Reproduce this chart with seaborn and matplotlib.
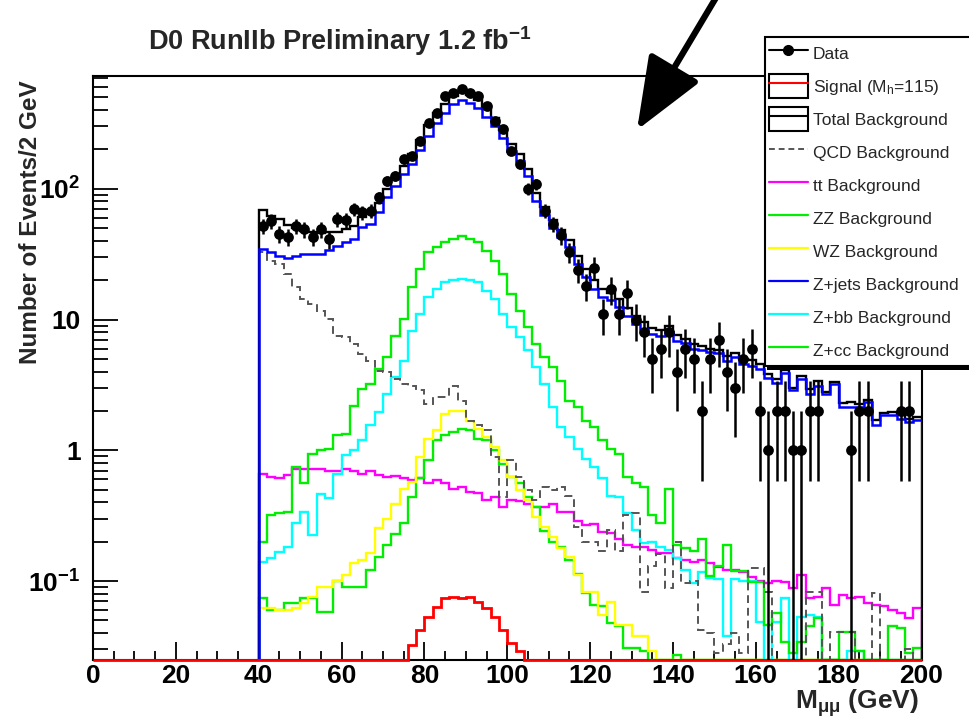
import numpy as np
import matplotlib
matplotlib.use("Agg")
import matplotlib.pyplot as plt
import seaborn as sns
from matplotlib.lines import Line2D
from matplotlib.patches import Rectangle, FancyArrowPatch
from matplotlib.ticker import MultipleLocator, LogLocator, NullFormatter

# ---------------- data (2 GeV bins, 40-200 GeV) ----------------
mass_min, mass_max, bin_width = 40, 200, 2

data_counts = [52, 57, 45, 43, 52, 49, 43, 49, 41, 59,
               58, 70, 66, 68, 86, 115, 126, 169, 179, 232,
               321, 383, 514, 543, 575, 543, 514, 430, 330, 285,
               195, 154, 100, 109, 68, 54, 44, 33, 24, 18,
               25, 11, 17, 11, 16, 10, 8, 5, 6, 8,
               4, 6, 5, 2, 5, 7, 4, 3, 5, 6,
               2, 1, 2, 2, 1, 1, 2, 2, 0, 0,
               0, 1, 2, 2, 0, 0, 0, 2, 2, 0]

total_bkg = [68.8, 62, 58.6, 53.2, 50.3, 47.9, 46.9, 45.7, 46.4, 46.7,
             49.4, 51.9, 61.2, 64.5, 77.3, 99, 121, 149, 185, 238,
             306, 379, 448, 511, 546, 521, 480, 406, 348, 282,
             222, 185, 142, 93.3, 72.8, 57.7, 48.6, 40.3, 30.5, 24.2,
             20, 17.1, 16.1, 14.3, 12.2, 10.7, 9.5, 8.65, 8.34, 8.93,
             7.6, 7.14, 6.5, 6.3, 6.0, 5.9, 5.24, 5.54, 4.97, 4.88,
             4.57, 3.83, 3.51, 4.11, 2.99, 3.7, 2.96, 3.36, 2.79, 3.33,
             2.3, 2.33, 2.27, 2.42, 1.72, 1.93, 1.96, 1.85, 1.75, 1.79]

qcd_bkg = [33, 28.2, 26.6, 22.3, 17.6, 14.4, 13.1, 11.7, 10.1, 7.55,
           7.3, 6.5, 5.47, 4.86, 4.07, 4.0, 3.53, 3.2, 3.13, 2.87,
           2.27, 2.55, 2.55, 3.13, 2.4, 1.69, 1.55, 1.42, 0.89, 0.44,
           0.84, 0.63, 0.5, 0.415, 0.525, 0.5, 0.52, 0.45, 0.26, 0.2,
           0.2, 0.17, 0.245, 0.17, 0.32, 0.33, 0.083, 0.13, 0.16, 0.088,
           0.2, 0.096, 0.1, 0.042, 0.04, 0.028, 0.033, 0.04, 0.028, 0.126,
           0.126, 0.083, 0, 0, 0, 0, 0.083, 0.083, 0, 0.041,
           0.041, 0.041, 0, 0, 0.081, 0, 0, 0, 0.03, 0]

ttbar_bkg = [0.664, 0.63, 0.61, 0.65, 0.725, 0.725, 0.725, 0.725, 0.69, 0.7,
             0.725, 0.69, 0.664, 0.69, 0.65, 0.63, 0.64, 0.61, 0.59, 0.61,
             0.56, 0.59, 0.56, 0.51, 0.52, 0.48, 0.47, 0.415, 0.44, 0.37,
             0.415, 0.41, 0.39, 0.37, 0.37, 0.39, 0.34, 0.34, 0.29, 0.27,
             0.275, 0.238, 0.235, 0.21, 0.19, 0.183, 0.183, 0.173, 0.163, 0.163,
             0.149, 0.145, 0.14, 0.145, 0.137, 0.128, 0.121, 0.121, 0.118, 0.108,
             0.1, 0.096, 0.1, 0.098, 0.089, 0.111, 0.074, 0.076, 0.089, 0.066,
             0.078, 0.074, 0.076, 0.068, 0.066, 0.064, 0.06, 0.057, 0.052, 0.062]

zz_bkg = [0.074, 0.06, 0.06, 0.068, 0.068, 0.074, 0.074, 0.058, 0.058, 0.1,
          0.09, 0.09, 0.09, 0.121, 0.153, 0.188, 0.231, 0.28, 0.44, 0.61,
          0.84, 1.19, 1.3, 1.38, 1.45, 1.43, 1.23, 1.19, 1.0, 0.79,
          0.63, 0.56, 0.44, 0.37, 0.24, 0.2, 0.183, 0.145, 0.114, 0.081,
          0.066, 0.064, 0.048, 0.045, 0.031, 0.031, 0.029, 0, 0, 0,
          0.027, 0, 0, 0, 0, 0, 0, 0, 0, 0,
          0, 0, 0, 0, 0, 0, 0, 0, 0, 0,
          0, 0, 0, 0, 0, 0, 0, 0, 0, 0]

wz_bkg = [0.062, 0.062, 0.06, 0.06, 0.062, 0.068, 0.075, 0.09, 0.09, 0.1,
          0.111, 0.137, 0.145, 0.163, 0.253, 0.3, 0.39, 0.51, 0.57, 0.89,
          1.23, 1.42, 1.9, 2.0, 2.0, 1.69, 1.46, 1.26, 1.06, 0.84,
          0.63, 0.5, 0.415, 0.31, 0.26, 0.218, 0.178, 0.153, 0.111, 0.083,
          0.083, 0.055, 0.069, 0.046, 0.046, 0.038, 0.038, 0.029, 0, 0,
          0, 0, 0, 0, 0, 0, 0, 0, 0, 0,
          0, 0, 0, 0, 0, 0, 0, 0, 0, 0,
          0, 0, 0, 0, 0, 0, 0, 0, 0, 0]

zjets_bkg = [34.7, 32.6, 30.8, 29.6, 30.8, 31.7, 31.7, 31.7, 34, 36.3,
             38.9, 41.3, 50.7, 53.8, 66, 86, 105, 129, 154, 197,
             254, 320, 383, 443, 476, 455, 417, 351, 302, 246,
             195, 164, 126, 81, 63, 50, 42.5, 35.6, 26.6, 21,
             17.1, 14.8, 14, 12.4, 10.7, 9.3, 8.5, 7.8, 7.55, 8.0,
             6.9, 6.6, 6.0, 5.8, 5.6, 5.5, 4.86, 5.15, 4.6, 4.45,
             4.2, 3.6, 3.3, 3.9, 2.87, 3.5, 2.7, 3.1, 2.7, 3.2,
             2.14, 2.14, 2.14, 2.33, 1.55, 1.85, 1.85, 1.75, 1.64, 1.7]

zbb_bkg = [0.14, 0.149, 0.168, 0.183, 0.276, 0.338, 0.224, 0.467, 0.428, 0.664,
           0.916, 1.0, 1.19, 1.55, 1.96, 2.7, 3.63, 4.86, 8.2, 11,
           14.8, 17.1, 19.3, 19.9, 20.4, 19.9, 19.3, 16.6, 14.4, 11,
           8.77, 7.3, 5.8, 4.3, 3.2, 2.14, 1.5, 1.26, 1.03, 0.86,
           0.746, 0.61, 0.45, 0.44, 0.33, 0.245, 0.194, 0.2, 0.183, 0.173,
           0.149, 0.121, 0.096, 0.118, 0.106, 0.104, 0.038, 0.104, 0.1, 0.1,
           0.049, 0, 0.049, 0.074, 0, 0.053, 0.055, 0.053, 0, 0,
           0, 0.029, 0.029, 0, 0, 0, 0, 0, 0, 0]

zcc_bkg = [0.2, 0.32, 0.33, 0.34, 0.75, 0.56, 0.94, 1.0, 1.03, 1.3,
           1.34, 2.2, 2.96, 3.2, 4.2, 5.2, 7.55, 10.1, 17.6, 24.4,
           32.6, 35.6, 38.9, 41.3, 43.6, 41.3, 38.9, 33.7, 28.2, 22.3,
           15.7, 11.7, 8.77, 6.5, 5.2, 4.3, 3.4, 2.4, 2.14, 1.69,
           1.5, 1.19, 1.03, 0.94, 0.63, 0.56, 0.52, 0.32, 0.28, 0.51,
           0.19, 0.18, 0.17, 0.21, 0.11, 0.13, 0.19, 0.12, 0.12, 0.099,
           0.099, 0.046, 0.057, 0.034, 0.028, 0.034, 0.045, 0.052, 0, 0,
           0.041, 0.041, 0.029, 0, 0, 0, 0.045, 0.044, 0.028, 0.031]

# signal histogram covers 0-200 GeV; it is empty below 40 GeV
signal_below_40 = [0.0] * 20
signal_mh115 = [0, 0, 0, 0, 0, 0, 0, 0, 0, 0,
                0, 0, 0, 0, 0, 0, 0, 0.02, 0.0325, 0.042,
                0.0535, 0.0636, 0.074, 0.076, 0.074, 0.076, 0.069, 0.062, 0.0535, 0.042,
                0.0334, 0.029, 0, 0, 0, 0, 0, 0, 0, 0,
                0, 0, 0, 0, 0, 0, 0, 0, 0, 0,
                0, 0, 0, 0, 0, 0, 0, 0, 0, 0,
                0, 0, 0, 0, 0, 0, 0, 0, 0, 0,
                0, 0, 0, 0, 0, 0, 0, 0, 0, 0]

x_ticks = [0, 20, 40, 60, 80, 100, 120, 140, 160, 180, 200]
y_ticks = [0.1, 1, 10, 100]
y_tick_labels = [r'$10^{-1}$', '1', '10', r'$10^{2}$']

legend_labels = ['Data', r'Signal (M$_{\mathsf{h}}$=115)', 'Total Background',
                 'QCD Background', 'tt Background', 'ZZ Background', 'WZ Background',
                 'Z+jets Background  ', 'Z+bb Background', 'Z+cc Background']

# ---------------- style ----------------
sns.set_theme(style="ticks")
plt.rcParams['font.family'] = ['Liberation Sans', 'DejaVu Sans']
plt.rcParams['mathtext.fontset'] = 'custom'
plt.rcParams['mathtext.rm'] = 'Liberation Sans:bold'
plt.rcParams['mathtext.it'] = 'Liberation Sans:italic:bold'
plt.rcParams['mathtext.bf'] = 'Liberation Sans:bold'
plt.rcParams['mathtext.sf'] = 'Liberation Sans'
plt.rcParams['mathtext.default'] = 'rm'

W, H = 969, 718
YMIN, YMAX = 0.0249, 734

fig = plt.figure(figsize=(W / 100, H / 100), dpi=100)
fig.patch.set_facecolor('white')
ax = fig.add_axes([93 / W, (H - 660) / H, (921.5 - 93) / W, (660 - 75.6) / H])
ax.set_facecolor('white')
ax.set_yscale('log', nonpositive='clip')
ax.set_xlim(0, 200)
ax.set_ylim(YMIN, YMAX)

edges = np.arange(mass_min, mass_max + bin_width, bin_width)
centers = edges[:-1] + bin_width / 2.0
sig_edges = np.arange(0, mass_max + bin_width, bin_width)


def draw_hist(vals, e, color, lw=1.7, ls='-', z=2, clip=True):
    v = np.clip(np.asarray(vals, dtype=float), YMIN, None)
    art = ax.stairs(v, e, baseline=YMIN, color=color, lw=lw, linestyle=ls, zorder=z)
    art.set_clip_on(clip)
    return art


GREEN = '#00ee00'
draw_hist(ttbar_bkg, edges, '#ff00ff', z=2)
draw_hist(zz_bkg, edges, GREEN, z=2)
draw_hist(wz_bkg, edges, '#ffff00', z=2.1)
draw_hist(zbb_bkg, edges, '#00ffff', z=2.2)
draw_hist(zcc_bkg, edges, GREEN, z=2.3)
draw_hist(qcd_bkg, edges, '#555555', lw=1.4, ls=(0, (4, 2.5)), z=2.4)
draw_hist(total_bkg, edges, 'black', lw=1.7, z=2.5)
draw_hist(zjets_bkg, edges, '#0000ff', lw=1.8, z=2.6)
draw_hist(np.concatenate([signal_below_40, signal_mh115]), sig_edges, '#ff0000',
          lw=2.0, z=3, clip=False)

# data with Poisson error bars
counts = np.asarray(data_counts, dtype=float)
mask = counts > 0
xc, yc = centers[mask], counts[mask]
lo = np.maximum(yc - np.sqrt(yc), 1e-4)
hi = yc + np.sqrt(yc)
ax.errorbar(xc, yc, yerr=[yc - lo, hi - yc], fmt='none', ecolor='black',
            elinewidth=1.8, capsize=0, zorder=5)
sns.scatterplot(x=xc, y=yc, ax=ax, color='black', s=60, linewidth=0,
                zorder=6, legend=False)

# axes styling
for s in ax.spines.values():
    s.set_color('black')
    s.set_linewidth(1.5)
ax.set_xticks(x_ticks)
ax.set_xticklabels([str(t) for t in x_ticks])
ax.xaxis.set_minor_locator(MultipleLocator(5))
ax.set_yticks(y_ticks)
ax.set_yticklabels(y_tick_labels)
ax.yaxis.set_minor_locator(LogLocator(base=10, subs=np.arange(2, 10)))
ax.yaxis.set_minor_formatter(NullFormatter())
ax.tick_params(axis='both', which='both', direction='in', top=False, right=False,
               colors='black', width=1.3)
ax.tick_params(axis='x', which='major', length=13, pad=3, labelsize=19)
ax.tick_params(axis='x', which='minor', length=6.5)
ax.tick_params(axis='y', which='major', length=18, pad=9, labelsize=19)
ax.tick_params(axis='y', which='minor', length=11)
for lab in ax.get_xticklabels() + ax.get_yticklabels():
    lab.set_fontweight('bold')
ax.grid(False)

# texts
fig.text(148 / W, 1 - 50 / H, r'D0 RunIIb Preliminary 1.2 fb$^{-1}$',
         fontsize=19.5, fontweight='bold', ha='left', va='baseline')
fig.text(31 / W, 1 - 80 / H, 'Number of Events/2 GeV', rotation=90,
         fontsize=17.5, fontweight='bold', ha='center', va='top')
fig.text(919 / W, 1 - 709 / H, r'M$_{\mu\mu}$ (GeV)', fontsize=19,
         fontweight='bold', ha='right', va='baseline')

# legend
box_sig = Rectangle((0, 0), 1, 1, facecolor='white', edgecolor='black', lw=1.5)
box_tot = Rectangle((0, 0), 1, 1, facecolor='white', edgecolor='black', lw=1.5)
handles = [
    Line2D([], [], color='black', lw=1.5, marker='o', markersize=7),
    (box_sig, Line2D([], [], color='#ff0000', lw=1.5)),
    (box_tot, Line2D([], [], color='black', lw=1.5)),
    Line2D([], [], color='#555555', lw=1.4, ls=(0, (3, 2))),
    Line2D([], [], color='#ff00ff', lw=1.6),
    Line2D([], [], color=GREEN, lw=1.6),
    Line2D([], [], color='#ffff00', lw=1.6),
    Line2D([], [], color='#0000ff', lw=1.6),
    Line2D([], [], color='#00ffff', lw=1.6),
    Line2D([], [], color=GREEN, lw=1.6),
]
leg = fig.legend(handles, legend_labels, loc='upper left',
                 bbox_to_anchor=(765 / W, 1 - 37 / H), bbox_transform=fig.transFigure,
                 frameon=True, fancybox=False, edgecolor='black', framealpha=1,
                 facecolor='white', fontsize=12.5, handlelength=2.2, handleheight=1.745,
                 labelspacing=0.52, handletextpad=0.3, borderpad=0.25, borderaxespad=0)
leg.get_frame().set_linewidth(1.5)
leg.set_zorder(8)

# legend shadow (bottom)
fig.add_artist(Rectangle((767 / W, 1 - 370 / H), (1010 - 767) / W, 5 / H,
                         transform=fig.transFigure, facecolor='black',
                         edgecolor='none', zorder=9, clip_on=False))

# big annotation arrow
arrow = FancyArrowPatch((717 / W, 1 + 4 / H), (637 / W, 1 - 130 / H),
                        transform=fig.transFigure, arrowstyle='-|>,head_length=1.5,head_width=0.6',
                        mutation_scale=30, lw=4.5, color='black', shrinkA=0, shrinkB=0,
                        zorder=20, clip_on=False)
fig.add_artist(arrow)

fig.savefig('out.png', dpi=100, facecolor='white')
